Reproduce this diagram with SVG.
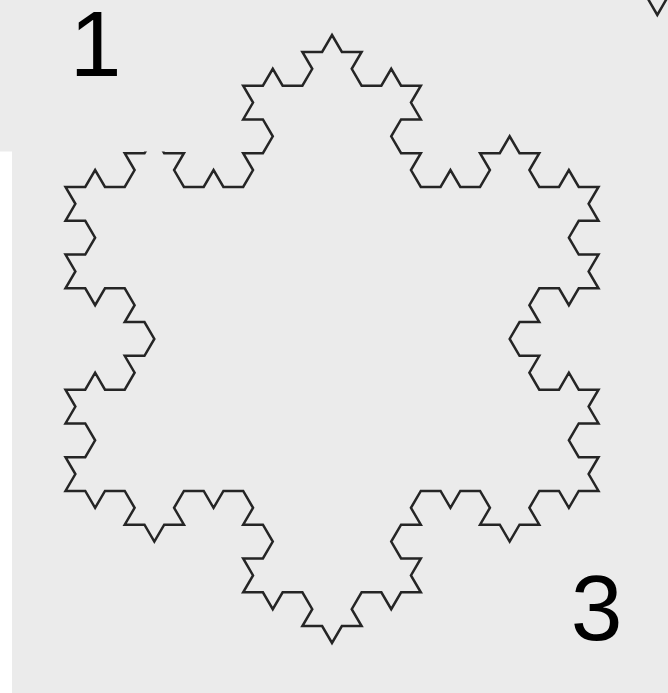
<svg xmlns="http://www.w3.org/2000/svg" width="668" height="693" viewBox="0 0 668 693">
  <style>
    .bg { fill: #ebebeb; }
    .koch { fill: none; stroke: #252525; stroke-width: 2.5; stroke-linejoin: miter; stroke-linecap: butt; }
    .label { font-family: "Liberation Sans", Arial, sans-serif; font-size: 93px; fill: #000; text-anchor: middle; }
  </style>
  <rect x="0" y="0" width="668" height="693" fill="#ffffff"/>
  <g id="panel3">
    <rect class="bg" x="12" y="0" width="656" height="693"/>
  </g>
  <g id="snowflake" transform="translate(332 35) scale(9.87 9.75)">
    <path class="koch" vector-effect="non-scaling-stroke" d="M0 0 l
      1 1.732 2 0 -1 1.732 1 1.732  2 0 1 -1.732 1 1.732 2 0  -1 1.732 1 1.732 -2 0 -1 1.732  1 1.732 2 0 -1 1.732 1 1.732
      2 0 1 -1.732 1 1.732 2 0  1 -1.732 -1 -1.732 2 0 1 -1.732  1 1.732 2 0 -1 1.732 1 1.732  2 0 1 -1.732 1 1.732 2 0
      -1 1.732 1 1.732 -2 0 -1 1.732  1 1.732 2 0 -1 1.732 1 1.732  -2 0 -1 1.732 -1 -1.732 -2 0  -1 1.732 1 1.732 -2 0 -1 1.732
      1 1.732 2 0 -1 1.732 1 1.732  2 0 1 -1.732 1 1.732 2 0  -1 1.732 1 1.732 -2 0 -1 1.732  1 1.732 2 0 -1 1.732 1 1.732
      -2 0 -1 1.732 -1 -1.732 -2 0  -1 1.732 1 1.732 -2 0 -1 1.732  -1 -1.732 -2 0 1 -1.732 -1 -1.732  -2 0 -1 1.732 -1 -1.732 -2 0
      -1 1.732 1 1.732 -2 0 -1 1.732  1 1.732 2 0 -1 1.732 1 1.732  -2 0 -1 1.732 -1 -1.732 -2 0  -1 1.732 1 1.732 -2 0 -1 1.732
      -1 -1.732 -2 0 1 -1.732 -1 -1.732  -2 0 -1 1.732 -1 -1.732 -2 0  1 -1.732 -1 -1.732 2 0 1 -1.732  -1 -1.732 -2 0 1 -1.732 -1 -1.732
      -2 0 -1 1.732 -1 -1.732 -2 0  -1 1.732 1 1.732 -2 0 -1 1.732  -1 -1.732 -2 0 1 -1.732 -1 -1.732  -2 0 -1 1.732 -1 -1.732 -2 0
      1 -1.732 -1 -1.732 2 0 1 -1.732  -1 -1.732 -2 0 1 -1.732 -1 -1.732  2 0 1 -1.732 1 1.732 2 0  1 -1.732 -1 -1.732 2 0 1 -1.732
      -1 -1.732 -2 0 1 -1.732 -1 -1.732  -2 0 -1 1.732 -1 -1.732 -2 0  1 -1.732 -1 -1.732 2 0 1 -1.732  -1 -1.732 -2 0 1 -1.732 -1 -1.732
      2 0 1 -1.732 1 1.732 2 0  1 -1.732 -1 -1.732 2 0 1 -1.732  1 1.732 2 0 -1 1.732 1 1.732  2 0 1 -1.732 1 1.732 2 0
      1 -1.732 -1 -1.732 2 0 1 -1.732  -1 -1.732 -2 0 1 -1.732 -1 -1.732  2 0 1 -1.732 1 1.732 2 0  1 -1.732 -1 -1.732 2 0 1 -1.732 z"/>
  </g>
  <g id="fragment-top-right">
    <polyline class="koch" points="647.3,-2.3 657.3,15 667.3,-2.3"/>
  </g>
  <g id="panel1">
    <rect class="bg" x="0" y="0" width="232" height="151.5"/>
    <text class="label" x="95.5" y="76">1</text>
  </g>
  <g id="label3">
    <text class="label" x="596.5" y="640">3</text>
  </g>
</svg>
